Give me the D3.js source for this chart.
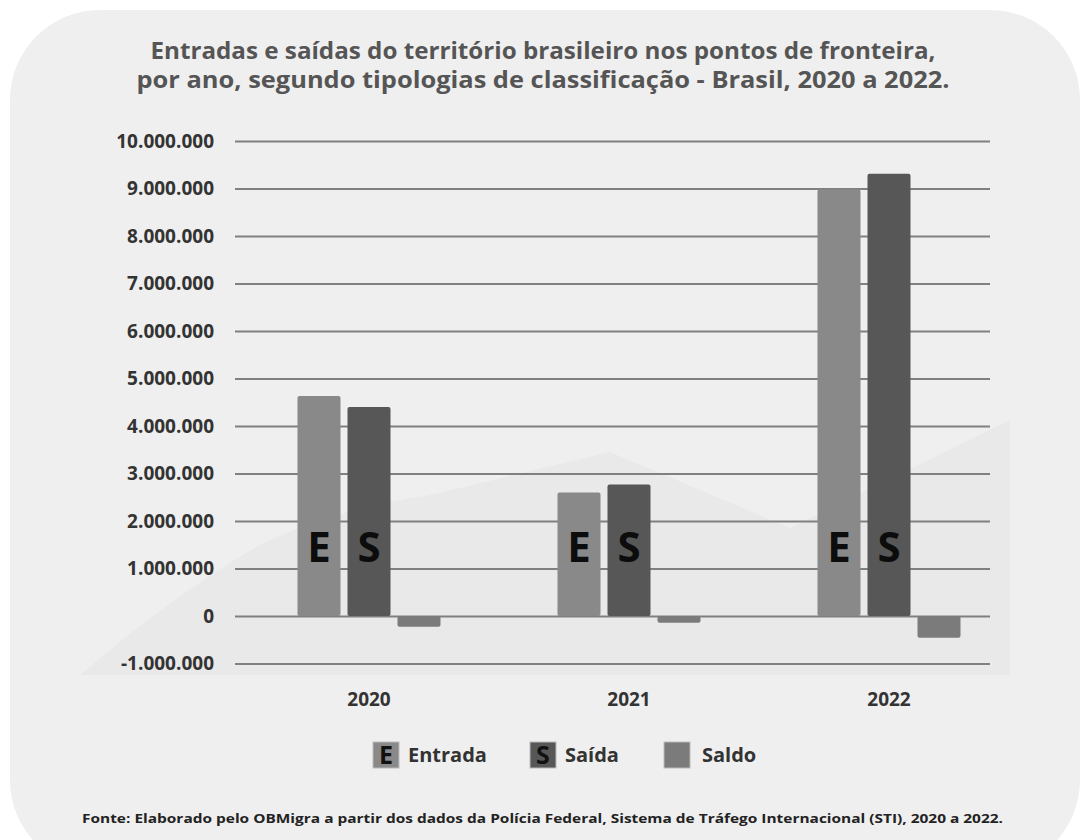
<!DOCTYPE html>
<html><head><meta charset="UTF-8">
<style>
  body { margin: 0; background: #fff; }
  svg { display: block; }
  text { font-family: 'Open Sans', sans-serif; }
</style>
</head>
<body>
<svg id="chart" width="1084" height="840"></svg>
<script src="https://cdn.jsdelivr.net/npm/d3@7"></script>
<script>
const years = ["2020", "2021", "2022"];
const series = ["Entrada", "Saída", "Saldo"];
const entrada = [4630000, 2600000, 8980000];
const saida = [4400000, 2770000, 9310000];
const saldo = [-225000, -140000, -460000];
const yTicks = [-1000000, 0, 1000000, 2000000, 3000000, 4000000, 5000000, 6000000, 7000000, 8000000, 9000000, 10000000];
const barLetters = ["E", "S", ""];
const colors = ["#898989", "#575757", "#7b7b7b"];
const titleLines = [
  "Entradas e saídas do território brasileiro nos pontos de fronteira,",
  "por ano, segundo tipologias de classificação - Brasil, 2020 a 2022."
];
const sourceText = "Fonte: Elaborado pelo OBMigra a partir dos dados da Polícia Federal, Sistema de Tráfego Internacional (STI), 2020 a 2022.";

const values = [entrada, saida, saldo];

const svg = d3.select("#chart");

// background panel
svg.append("rect").attr("width", 1084).attr("height", 840).attr("fill", "#fff");
svg.append("rect")
  .attr("x", 10).attr("y", 10).attr("width", 1070).attr("height", 860)
  .attr("rx", 90).attr("fill", "#efefef");

// faint mountain shape behind the plot
svg.append("path")
  .attr("d", "M80,675 Q180,590 260,545 Q330,510 430,495 L610,452 L790,528 L1010,420 L1010,675 Z")
  .attr("fill", "#e9e9e9");

// title
const titleLen = [785, 813];
svg.append("g").selectAll("text")
  .data(titleLines)
  .join("text")
  .attr("x", 543)
  .attr("y", (d, i) => 59 + i * 29)
  .attr("text-anchor", "middle")
  .attr("font-weight", 700)
  .attr("font-size", 23.5)
  .attr("textLength", (d, i) => titleLen[i])
  .attr("lengthAdjust", "spacingAndGlyphs")
  .attr("fill", "#555")
  .text(d => d);

const y = d3.scaleLinear().domain([-1000000, 10000000]).range([663.5, 141]);
const x0 = d3.scaleBand().domain(years).range([239, 1019]).padding(0);
const x1 = d3.scaleBand().domain(series).range([0, 143]).paddingInner(0.14).paddingOuter(0);

const locale = d3.formatLocale({ decimal: ",", thousands: ".", grouping: [3], currency: ["R$", ""], minus: "-" });
const fmt = locale.format(",d");

// y axis with gridlines
const yAxis = svg.append("g")
  .attr("transform", "translate(235,0)")
  .call(d3.axisLeft(y).tickValues(yTicks).tickSize(-755).tickPadding(21).tickFormat(fmt));
yAxis.select(".domain").remove();
yAxis.selectAll(".tick line").attr("stroke", "#808080").attr("stroke-width", 2.2);
yAxis.selectAll(".tick text")
  .attr("font-family", "'Open Sans', sans-serif")
  .attr("font-weight", 700)
  .attr("font-size", 19)
  .attr("fill", "#333");

// bars
const bars = [];
years.forEach((yr, i) => {
  series.forEach((s, j) => {
    bars.push({ year: yr, series: s, value: values[j][i], idx: j });
  });
});

const barX = d => x0(d.year) + x0.bandwidth() / 2 - 71.5 + x1(d.series);

svg.append("g").selectAll("rect")
  .data(bars)
  .join("rect")
  .attr("x", barX)
  .attr("y", d => y(Math.max(0, d.value)))
  .attr("width", x1.bandwidth())
  .attr("height", d => Math.abs(y(d.value) - y(0)))
  .attr("rx", 2)
  .attr("fill", d => colors[d.idx]);

// E / S letters inside bars
svg.append("g").selectAll("text")
  .data(bars.filter(d => barLetters[d.idx]))
  .join("text")
  .attr("x", d => barX(d) + x1.bandwidth() / 2)
  .attr("y", 562)
  .attr("text-anchor", "middle")
  .attr("font-family", "'Liberation Sans', Arial, sans-serif")
  .attr("font-weight", 700)
  .attr("font-size", 42)
  .attr("fill", "#0c0c0c")
  .text(d => barLetters[d.idx]);

// x axis labels
const xAxis = svg.append("g")
  .attr("transform", "translate(0,692)")
  .call(d3.axisBottom(x0).tickSize(0).tickPadding(0));
xAxis.select(".domain").remove();
xAxis.selectAll(".tick text")
  .attr("font-family", "'Open Sans', sans-serif")
  .attr("font-weight", 700)
  .attr("font-size", 19)
  .attr("fill", "#333");

// legend
const legendX = [373, 530, 664];
const labelX = [408, 565, 702];
const legend = svg.append("g").selectAll("g")
  .data(series)
  .join("g");
legend.append("rect")
  .attr("x", (d, i) => legendX[i])
  .attr("y", 742)
  .attr("width", 26).attr("height", 26)
  .attr("fill", (d, i) => colors[i])
  .attr("stroke", "#bbb").attr("stroke-width", 1);
legend.append("text")
  .attr("x", (d, i) => legendX[i] + 13)
  .attr("y", 764)
  .attr("text-anchor", "middle")
  .attr("font-family", "'Liberation Sans Narrow', 'Liberation Sans', sans-serif")
  .attr("font-weight", 700)
  .attr("font-size", 25)
  .attr("fill", "#111")
  .text((d, i) => barLetters[i]);
legend.append("text")
  .attr("x", (d, i) => labelX[i])
  .attr("y", 762)
  .attr("font-family", "'Open Sans', sans-serif")
  .attr("font-weight", 700)
  .attr("font-size", 20)
  .attr("fill", "#333")
  .text(d => d);

// source
svg.append("text")
  .attr("x", 82)
  .attr("y", 823)
  .attr("font-weight", 700)
  .attr("font-size", 13)
  .attr("textLength", 921)
  .attr("lengthAdjust", "spacingAndGlyphs")
  .attr("fill", "#222")
  .text(sourceText);
</script>
</body></html>
